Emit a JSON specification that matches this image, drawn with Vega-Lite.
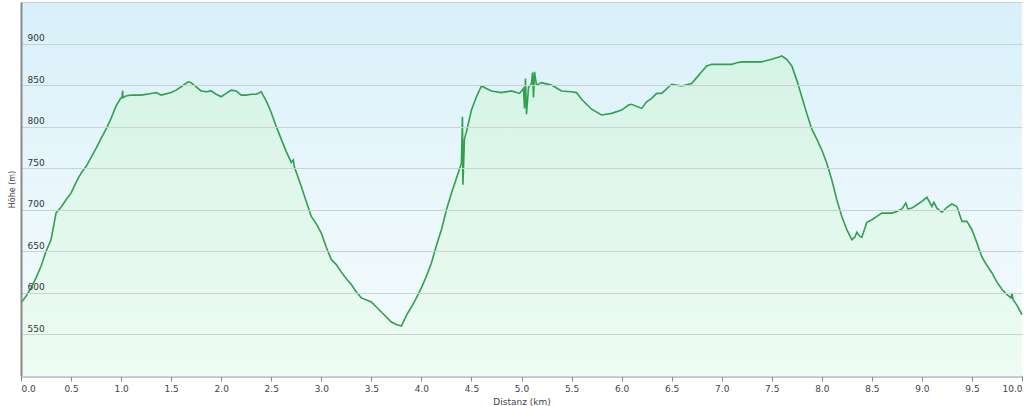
{
  "$schema": "https://vega.github.io/schema/vega-lite/v6.json",
  "autosize": "none",
  "width": 1001,
  "height": 374,
  "padding": {"left": 21, "top": 2, "right": 2, "bottom": 30},
  "background": "#ffffff",
  "config": {
    "view": {
      "stroke": null,
      "fill": {"gradient": "linear", "x1": 0, "y1": 0, "x2": 0, "y2": 1,
        "stops": [{"offset": 0, "color": "#d8f0fa"}, {"offset": 0.6, "color": "#ecf8fc"}, {"offset": 1, "color": "#f4fbfb"}]}
    },
    "font": "DejaVu Sans"
  },
  "data": {"values": [
    {"km": 0.0, "hoehe": 588}, {"km": 0.05, "hoehe": 596}, {"km": 0.1, "hoehe": 606}, {"km": 0.15, "hoehe": 618},
    {"km": 0.2, "hoehe": 632}, {"km": 0.25, "hoehe": 650}, {"km": 0.3, "hoehe": 664}, {"km": 0.33, "hoehe": 683},
    {"km": 0.35, "hoehe": 696}, {"km": 0.4, "hoehe": 703}, {"km": 0.45, "hoehe": 712}, {"km": 0.5, "hoehe": 720},
    {"km": 0.55, "hoehe": 733}, {"km": 0.6, "hoehe": 744}, {"km": 0.65, "hoehe": 752}, {"km": 0.7, "hoehe": 763},
    {"km": 0.75, "hoehe": 774}, {"km": 0.8, "hoehe": 786}, {"km": 0.85, "hoehe": 797}, {"km": 0.9, "hoehe": 810},
    {"km": 0.95, "hoehe": 825}, {"km": 0.99, "hoehe": 833}, {"km": 1.01, "hoehe": 836}, {"km": 1.015, "hoehe": 843},
    {"km": 1.02, "hoehe": 835}, {"km": 1.05, "hoehe": 837}, {"km": 1.1, "hoehe": 838}, {"km": 1.2, "hoehe": 838},
    {"km": 1.3, "hoehe": 840}, {"km": 1.35, "hoehe": 841}, {"km": 1.4, "hoehe": 838}, {"km": 1.5, "hoehe": 841},
    {"km": 1.55, "hoehe": 844}, {"km": 1.6, "hoehe": 848}, {"km": 1.67, "hoehe": 854}, {"km": 1.7, "hoehe": 853},
    {"km": 1.75, "hoehe": 848}, {"km": 1.8, "hoehe": 843}, {"km": 1.85, "hoehe": 842}, {"km": 1.9, "hoehe": 843},
    {"km": 1.95, "hoehe": 839}, {"km": 2.0, "hoehe": 836}, {"km": 2.05, "hoehe": 840}, {"km": 2.1, "hoehe": 844},
    {"km": 2.15, "hoehe": 843}, {"km": 2.2, "hoehe": 838}, {"km": 2.25, "hoehe": 838}, {"km": 2.3, "hoehe": 839},
    {"km": 2.35, "hoehe": 839}, {"km": 2.4, "hoehe": 842}, {"km": 2.45, "hoehe": 831}, {"km": 2.5, "hoehe": 817},
    {"km": 2.55, "hoehe": 800}, {"km": 2.6, "hoehe": 785}, {"km": 2.65, "hoehe": 770}, {"km": 2.7, "hoehe": 757},
    {"km": 2.72, "hoehe": 760}, {"km": 2.73, "hoehe": 752}, {"km": 2.8, "hoehe": 728}, {"km": 2.85, "hoehe": 710},
    {"km": 2.9, "hoehe": 692}, {"km": 2.95, "hoehe": 683}, {"km": 3.0, "hoehe": 672}, {"km": 3.05, "hoehe": 655},
    {"km": 3.1, "hoehe": 640}, {"km": 3.15, "hoehe": 634}, {"km": 3.2, "hoehe": 625}, {"km": 3.25, "hoehe": 617},
    {"km": 3.3, "hoehe": 610}, {"km": 3.35, "hoehe": 601}, {"km": 3.4, "hoehe": 594}, {"km": 3.5, "hoehe": 589},
    {"km": 3.6, "hoehe": 577}, {"km": 3.7, "hoehe": 565}, {"km": 3.75, "hoehe": 562}, {"km": 3.8, "hoehe": 560},
    {"km": 3.85, "hoehe": 573}, {"km": 3.9, "hoehe": 583}, {"km": 3.95, "hoehe": 594}, {"km": 4.0, "hoehe": 606},
    {"km": 4.05, "hoehe": 620}, {"km": 4.1, "hoehe": 636}, {"km": 4.15, "hoehe": 657}, {"km": 4.2, "hoehe": 676},
    {"km": 4.25, "hoehe": 700}, {"km": 4.3, "hoehe": 720}, {"km": 4.35, "hoehe": 738}, {"km": 4.4, "hoehe": 756},
    {"km": 4.41, "hoehe": 812}, {"km": 4.415, "hoehe": 730}, {"km": 4.43, "hoehe": 785}, {"km": 4.45, "hoehe": 794},
    {"km": 4.5, "hoehe": 820}, {"km": 4.55, "hoehe": 836}, {"km": 4.6, "hoehe": 849}, {"km": 4.65, "hoehe": 846},
    {"km": 4.7, "hoehe": 843}, {"km": 4.8, "hoehe": 841}, {"km": 4.9, "hoehe": 843}, {"km": 4.98, "hoehe": 840},
    {"km": 5.0, "hoehe": 843}, {"km": 5.02, "hoehe": 846}, {"km": 5.03, "hoehe": 822}, {"km": 5.04, "hoehe": 858},
    {"km": 5.05, "hoehe": 815}, {"km": 5.07, "hoehe": 847}, {"km": 5.1, "hoehe": 852}, {"km": 5.11, "hoehe": 865},
    {"km": 5.12, "hoehe": 835}, {"km": 5.13, "hoehe": 866}, {"km": 5.15, "hoehe": 850}, {"km": 5.2, "hoehe": 853},
    {"km": 5.3, "hoehe": 850}, {"km": 5.4, "hoehe": 843}, {"km": 5.5, "hoehe": 842}, {"km": 5.55, "hoehe": 841},
    {"km": 5.6, "hoehe": 833}, {"km": 5.7, "hoehe": 821}, {"km": 5.8, "hoehe": 814}, {"km": 5.9, "hoehe": 816},
    {"km": 6.0, "hoehe": 820}, {"km": 6.07, "hoehe": 826}, {"km": 6.1, "hoehe": 827}, {"km": 6.2, "hoehe": 822},
    {"km": 6.25, "hoehe": 830}, {"km": 6.3, "hoehe": 834}, {"km": 6.35, "hoehe": 840}, {"km": 6.4, "hoehe": 840},
    {"km": 6.5, "hoehe": 851}, {"km": 6.6, "hoehe": 849}, {"km": 6.7, "hoehe": 852}, {"km": 6.75, "hoehe": 859},
    {"km": 6.8, "hoehe": 866}, {"km": 6.85, "hoehe": 873}, {"km": 6.9, "hoehe": 875}, {"km": 7.0, "hoehe": 875},
    {"km": 7.1, "hoehe": 875}, {"km": 7.15, "hoehe": 877}, {"km": 7.2, "hoehe": 878}, {"km": 7.3, "hoehe": 878},
    {"km": 7.4, "hoehe": 878}, {"km": 7.5, "hoehe": 881}, {"km": 7.58, "hoehe": 884}, {"km": 7.6, "hoehe": 885},
    {"km": 7.65, "hoehe": 881}, {"km": 7.7, "hoehe": 873}, {"km": 7.75, "hoehe": 856}, {"km": 7.8, "hoehe": 836},
    {"km": 7.85, "hoehe": 816}, {"km": 7.9, "hoehe": 797}, {"km": 7.95, "hoehe": 785}, {"km": 8.0, "hoehe": 772},
    {"km": 8.05, "hoehe": 756}, {"km": 8.1, "hoehe": 736}, {"km": 8.15, "hoehe": 712}, {"km": 8.2, "hoehe": 692},
    {"km": 8.25, "hoehe": 676}, {"km": 8.3, "hoehe": 664}, {"km": 8.33, "hoehe": 667}, {"km": 8.35, "hoehe": 673},
    {"km": 8.38, "hoehe": 668}, {"km": 8.4, "hoehe": 667}, {"km": 8.45, "hoehe": 685}, {"km": 8.5, "hoehe": 688},
    {"km": 8.55, "hoehe": 692}, {"km": 8.6, "hoehe": 696}, {"km": 8.65, "hoehe": 696}, {"km": 8.7, "hoehe": 696},
    {"km": 8.75, "hoehe": 698}, {"km": 8.8, "hoehe": 701}, {"km": 8.84, "hoehe": 708}, {"km": 8.86, "hoehe": 701},
    {"km": 8.9, "hoehe": 702}, {"km": 8.95, "hoehe": 706}, {"km": 9.0, "hoehe": 710}, {"km": 9.05, "hoehe": 715},
    {"km": 9.1, "hoehe": 704}, {"km": 9.12, "hoehe": 709}, {"km": 9.15, "hoehe": 702}, {"km": 9.2, "hoehe": 697},
    {"km": 9.25, "hoehe": 703}, {"km": 9.3, "hoehe": 707}, {"km": 9.35, "hoehe": 704}, {"km": 9.4, "hoehe": 686},
    {"km": 9.45, "hoehe": 686}, {"km": 9.5, "hoehe": 676}, {"km": 9.55, "hoehe": 660}, {"km": 9.6, "hoehe": 643},
    {"km": 9.65, "hoehe": 633}, {"km": 9.7, "hoehe": 624}, {"km": 9.75, "hoehe": 613}, {"km": 9.8, "hoehe": 604},
    {"km": 9.85, "hoehe": 598}, {"km": 9.89, "hoehe": 594}, {"km": 9.9, "hoehe": 600}, {"km": 9.91, "hoehe": 592},
    {"km": 9.95, "hoehe": 585}, {"km": 10.0, "hoehe": 574}
  ]},
  "encoding": {
    "x": {
      "field": "km", "type": "quantitative",
      "scale": {"domain": [0, 10], "nice": false, "zero": false},
      "axis": {
        "values": [0, 0.5, 1, 1.5, 2, 2.5, 3, 3.5, 4, 4.5, 5, 5.5, 6, 6.5, 7, 7.5, 8, 8.5, 9, 9.5, 10],
        "format": ".1f", "grid": false, "title": "Distanz  (km)",
        "domainColor": "#8a8a8a", "domainWidth": 2, "tickColor": "#8a8a8a", "tickSize": 5, "tickWidth": 1,
        "labelFont": "DejaVu Sans", "labelFontSize": 9, "labelColor": "#444444", "labelPadding": 3,
        "titleFont": "DejaVu Sans", "titleFontSize": 9, "titleFontWeight": "normal", "titleColor": "#444444", "titlePadding": 4,
        "labelFlush": true
      }
    },
    "y": {
      "field": "hoehe", "type": "quantitative",
      "scale": {"domain": [500, 950], "nice": false, "zero": false},
      "axis": {
        "values": [500, 550, 600, 650, 700, 750, 800, 850, 900, 950],
        "labelExpr": "datum.value >= 550 && datum.value <= 900 ? datum.label : ''",
        "title": "Höhe (m)", "ticks": false, "tickSize": 0, "zindex": 1,
        "domainColor": "#8a8a8a", "domainWidth": 2,
        "gridColor": "#c9d1d5", "gridWidth": 1.2,
        "labelAlign": "left", "labelBaseline": "bottom", "labelPadding": -6, "labelOffset": -1,
        "labelFont": "DejaVu Sans", "labelFontSize": 9, "labelColor": "#333333",
        "titleFont": "DejaVu Sans", "titleFontSize": 8, "titleFontWeight": "normal", "titleColor": "#444444", "titlePadding": 5
      }
    }
  },
  "layer": [
    {
      "mark": {"type": "area", "interpolate": "linear",
        "fill": {"gradient": "linear", "x1": 0, "y1": 0, "x2": 0, "y2": 1,
          "stops": [{"offset": 0, "color": "#d5f3e6"}, {"offset": 1, "color": "#eefcf3"}]}},
      "encoding": {"y2": {"datum": 500}}
    },
    {
      "mark": {"type": "line", "color": "#2fa04c", "strokeWidth": 1.6, "interpolate": "linear"}
    }
  ]
}
